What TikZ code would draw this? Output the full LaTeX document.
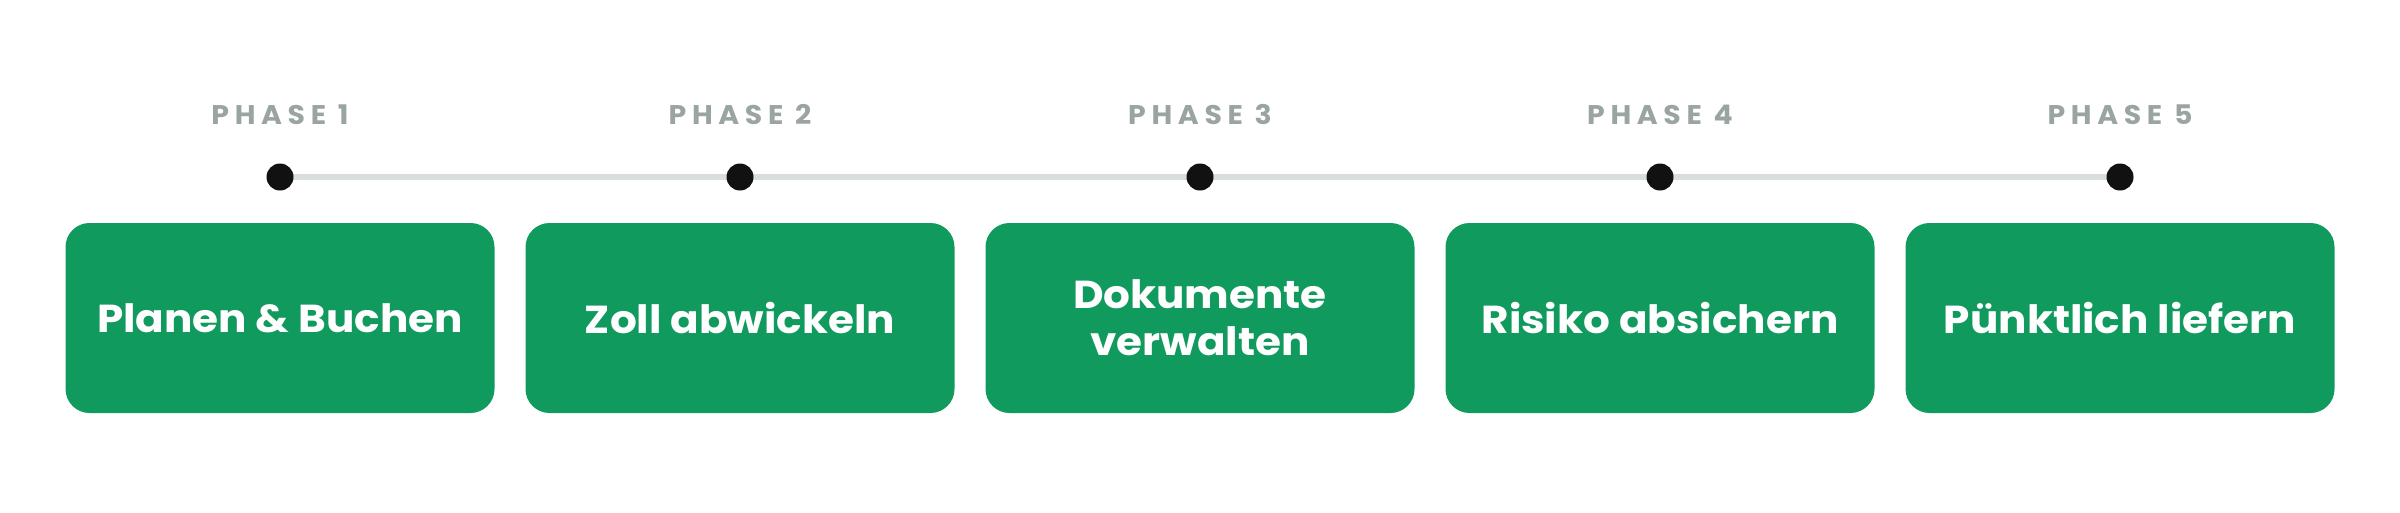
\documentclass[tikz,border=0pt]{standalone}
\usepackage{fontspec}
\setmainfont{Poppins}
\newfontfamily\phasefont[LetterSpace=21,FakeStretch=1.05]{Poppins Bold}
\newfontfamily\boxfont[FakeStretch=1.08]{Poppins Bold}
\definecolor{boxgreen}{HTML}{109A5E}
\definecolor{phasegray}{HTML}{9BA5A0}
\definecolor{linegray}{HTML}{D8DEDB}
\definecolor{dotblack}{HTML}{111111}
\tikzset{
  stepbox/.style={rounded corners=24pt, fill=boxgreen, draw=none, minimum width=429pt, minimum height=190pt,
    text=white, align=center, inner sep=0pt, font=\boxfont\fontsize{39}{46.7}\selectfont},
  phaselabel/.style={text=phasegray, anchor=base, inner sep=0pt, font=\phasefont\fontsize{27}{30}\selectfont},
  phasedot/.style={circle, fill=dotblack, minimum size=27pt, inner sep=0pt},
  timeline/.style={draw=linegray, line width=6pt}
}
\begin{document}
\begin{tikzpicture}[x=1pt,y=1pt]
\useasboundingbox (0,0) rectangle (2400,-512);
\foreach \i/\t in {1/{Planen \& Buchen},2/{Zoll abwickeln},3/{Dokumente\\verwalten},4/{Risiko absichern},5/{Pünktlich liefern}}{
  \pgfmathsetmacro{\cx}{280+460*(\i-1)}
  \node[stepbox] (b\i) at (\cx,-318) {\t};
  \coordinate (d\i) at (\cx,-177);
  \node[phaselabel] (p\i) at (\cx,-124) {PHASE \i};
}
\draw[timeline] (d1) -- (d5);
\foreach \i in {1,...,5}{
  \node[phasedot] (dot\i) at (d\i) {};
}
\end{tikzpicture}
\end{document}
